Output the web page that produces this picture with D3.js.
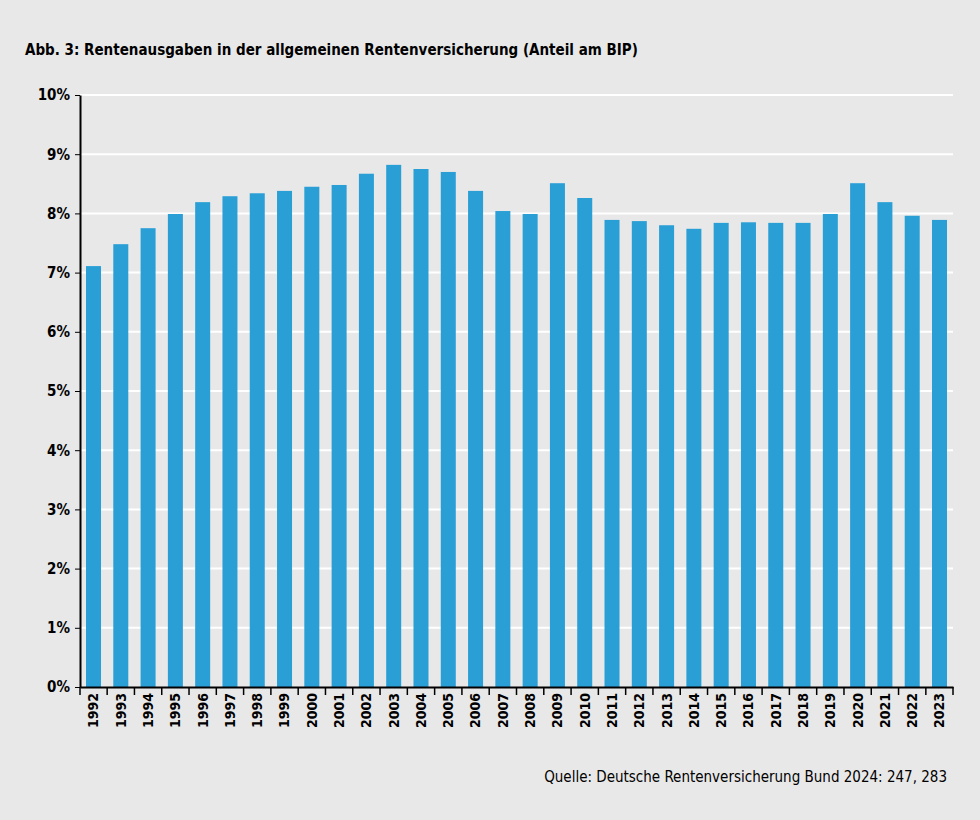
<!DOCTYPE html>
<html><head><meta charset="utf-8">
<script src="https://cdn.jsdelivr.net/npm/d3@7"></script>
<style>body{margin:0;background:#e8e8e8}svg{display:block}</style>
</head><body><svg id="c" width="980" height="820"></svg>
<script>
const years = ["1992","1993","1994","1995","1996","1997","1998","1999","2000","2001","2002","2003","2004","2005","2006","2007","2008","2009","2010","2011","2012","2013","2014","2015","2016","2017","2018","2019","2020","2021","2022","2023"];
const values = [7.11,7.48,7.75,7.99,8.19,8.29,8.34,8.38,8.45,8.48,8.67,8.82,8.75,8.70,8.38,8.04,7.99,8.51,8.26,7.89,7.87,7.80,7.74,7.84,7.85,7.84,7.84,7.99,8.51,8.19,7.96,7.89];
const yTicks = [0,1,2,3,4,5,6,7,8,9,10];
const title = "Abb. 3: Rentenausgaben in der allgemeinen Rentenversicherung (Anteil am BIP)";
const source = "Quelle: Deutsche Rentenversicherung Bund 2024: 247, 283";

const font = "'Liberation Sans Narrow','DejaVu Sans Condensed','Roboto Condensed',sans-serif";
const svg = d3.select("#c");
svg.append("rect").attr("width",980).attr("height",820).attr("fill","#e8e8e8");
const x = d3.scaleBand().domain(years).range([80,953]).paddingInner(0.45).paddingOuter(0.22);
const y = d3.scaleLinear().domain([0,10]).range([687,95]);

svg.append("text").attr("x",25).attr("y",55).attr("font-family",font).attr("font-weight","bold")
  .attr("font-size",15).text(title);

svg.append("g").selectAll("line").data(yTicks.slice(1)).join("line")
  .attr("x1",80).attr("x2",953).attr("y1",d=>y(d)).attr("y2",d=>y(d))
  .attr("stroke","#fff").attr("stroke-width",2);

svg.append("g").selectAll("rect").data(values).join("rect")
  .attr("x",(d,i)=>x(years[i])).attr("width",x.bandwidth())
  .attr("y",d=>y(d)).attr("height",d=>y(0)-y(d)).attr("fill","#2a9fd6");

const ya = svg.append("g").attr("transform","translate(80,0)")
  .call(d3.axisLeft(y).tickValues(yTicks).tickFormat(d=>d+"%").tickSize(5).tickSizeOuter(0));
ya.select(".domain").attr("stroke","#000").attr("stroke-width",2);
ya.selectAll("text").attr("font-family",font).attr("font-weight","bold").attr("font-size",15).attr("fill","#000").attr("x",-10);

const xa = svg.append("g").attr("transform","translate(0,687)")
  .call(d3.axisBottom(x).tickSize(0).tickSizeOuter(0));
xa.select(".domain").attr("stroke","#000").attr("stroke-width",2);
xa.selectAll("text").attr("font-family",font).attr("font-weight","bold").attr("font-size",14).attr("fill","#000")
  .attr("transform","rotate(-90)").attr("text-anchor","end").attr("x",-6).attr("y",0).attr("dy","0.35em");
// separators between categories
const step = x.step();
svg.append("g").selectAll("line").data(d3.range(years.length+1)).join("line")
  .attr("x1",i=>i===0?80:(i===years.length?953:x(years[i])-step*x.paddingInner()/2))
  .attr("x2",i=>i===0?80:(i===years.length?953:x(years[i])-step*x.paddingInner()/2))
  .attr("y1",687).attr("y2",695).attr("stroke","#000").attr("stroke-width",1.5);

svg.append("text").attr("x",947).attr("y",782).attr("text-anchor","end").attr("font-family",font)
  .attr("font-size",15).text(source);
</script></body></html>
